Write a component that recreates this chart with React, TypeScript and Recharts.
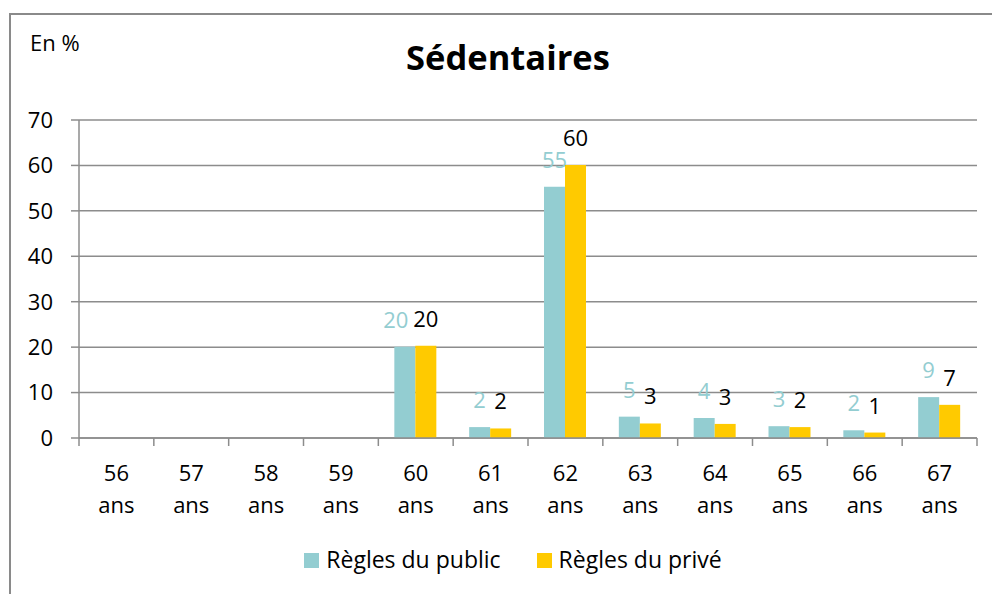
import React from 'react';
import { BarChart, Bar, XAxis, YAxis, CartesianGrid, LabelList, Legend } from 'recharts';

const categories = ['56 ans', '57 ans', '58 ans', '59 ans', '60 ans', '61 ans', '62 ans', '63 ans', '64 ans', '65 ans', '66 ans', '67 ans'];
const publicValues = [0, 0, 0, 0, 20.1, 2.4, 55.3, 4.7, 4.4, 2.6, 1.7, 9.0];
const priveValues = [0, 0, 0, 0, 20.3, 2.1, 60.1, 3.2, 3.1, 2.4, 1.2, 7.3];
const yTicks = [0, 10, 20, 30, 40, 50, 60, 70];
const seriesOrder = ['pub', 'prive'];

const data = categories.map((c, i) => ({ cat: c, pub: publicValues[i], prive: priveValues[i] }));

const FONT = '"Open Sans", sans-serif';
const GRID = '#8c8c8c';
const TEAL = '#93CDD1';
const GOLD = '#FFCA00';

const XTick = (props: any) => {
  const { x, y, payload, index } = props;
  const half = payload.offset || 0;
  const parts = String(payload.value).split(' ');
  return (
    <g>
      <line x1={x - half} x2={x - half} y1={y} y2={y + 8} stroke={GRID} strokeWidth={1.5} />
      {index === categories.length - 1 && (
        <line x1={x + half} x2={x + half} y1={y} y2={y + 8} stroke={GRID} strokeWidth={1.5} />
      )}
      <text x={x} y={y + 43} textAnchor="middle" fontFamily={FONT} fontSize={22} fill="#000">
        <tspan x={x} dy={0}>{parts[0]}</tspan>
        <tspan x={x} dy={32}>{parts[1]}</tspan>
      </text>
    </g>
  );
};

const LegendContent = (props: any) => {
  const payload = [...(props.payload || [])].sort(
    (a: any, b: any) => seriesOrder.indexOf(a.dataKey) - seriesOrder.indexOf(b.dataKey)
  );
  return (
    <div style={{ display: 'flex', justifyContent: 'center', alignItems: 'center', paddingLeft: 34, fontFamily: FONT, fontSize: 23, color: '#000' }}>
      {payload.map((p: any, i: number) => (
        <div key={i} style={{ display: 'flex', alignItems: 'center', marginLeft: i > 0 ? 36 : 0 }}>
          <span style={{ display: 'inline-block', width: 15, height: 15, background: p.color, marginRight: 7, marginTop: 3 }} />
          <span>{p.value}</span>
        </div>
      ))}
    </div>
  );
};

const PubLabel = (props: any) => {
  const { x, y, width, value } = props;
  const v = Number(value);
  if (!v) return null;
  const idx = publicValues.indexOf(v);
  const other = idx >= 0 ? priveValues[idx] : 0;
  const txt = String(Math.round(v));
  const shift = txt.length > 1 && Math.abs(other - v) < 3 ? -9 : 0;
  return (
    <text x={Number(x) + Number(width) / 2 + shift} y={Number(y) - 19} textAnchor="middle" fontFamily={FONT} fontSize={22} fill={TEAL}>
      {txt}
    </text>
  );
};

const labelFmt = (v: any) => (v ? String(Math.round(Number(v))) : '');

export default function App() {
  return (
    <div style={{ position: 'absolute', left: 0, top: 0, width: 992, height: 594, overflow: 'hidden', background: '#fff' }}>
      <div style={{ position: 'absolute', left: 9, top: 13, width: 1010, height: 620, border: '2px solid #8a8a8a', boxSizing: 'border-box' }} />
      <div style={{ position: 'absolute', left: 30, top: 27, fontFamily: FONT, fontSize: 22, color: '#000', lineHeight: '30px' }}>En %</div>
      <div style={{ position: 'absolute', left: 0, width: 1016, top: 37, textAlign: 'center', fontFamily: FONT, fontSize: 34.5, fontWeight: 700, color: '#000', lineHeight: '40px' }}>Sédentaires</div>
      <div style={{ position: 'absolute', left: 0, top: 0 }}>
        <BarChart width={992} height={594} data={data} margin={{ top: 120, right: 15, left: 0, bottom: 0 }} barGap={0} barSize={21}>
          <CartesianGrid horizontal vertical={false} stroke={GRID} strokeWidth={1.5} />
          <YAxis
            width={79}
            domain={[0, 70]}
            ticks={yTicks}
            interval={0}
            tickSize={8}
            tickMargin={18}
            axisLine={{ stroke: GRID, strokeWidth: 1.5 }}
            tickLine={{ stroke: GRID, strokeWidth: 1.5 }}
            tick={{ fontFamily: FONT, fontSize: 22, fill: '#000' }}
          />
          <XAxis
            dataKey="cat"
            height={156}
            interval={0}
            tickSize={0}
            tickMargin={0}
            tickLine={false}
            axisLine={{ stroke: GRID, strokeWidth: 1.5 }}
            tick={<XTick />}
          />
          <Legend
            layout="horizontal"
            verticalAlign="middle"
            align="center"
            content={<LegendContent />}
            wrapperStyle={{ top: 543, left: 0, width: 992 }}
          />
          <Bar dataKey="pub" name="Règles du public" fill={TEAL} isAnimationActive={false}>
            <LabelList dataKey="pub" content={<PubLabel />} />
          </Bar>
          <Bar dataKey="prive" name="Règles du privé" fill={GOLD} isAnimationActive={false}>
            <LabelList dataKey="prive" position="top" offset={19} formatter={labelFmt} fill="#000" fontFamily={FONT} fontSize={22} />
          </Bar>
        </BarChart>
      </div>
    </div>
  );
}
